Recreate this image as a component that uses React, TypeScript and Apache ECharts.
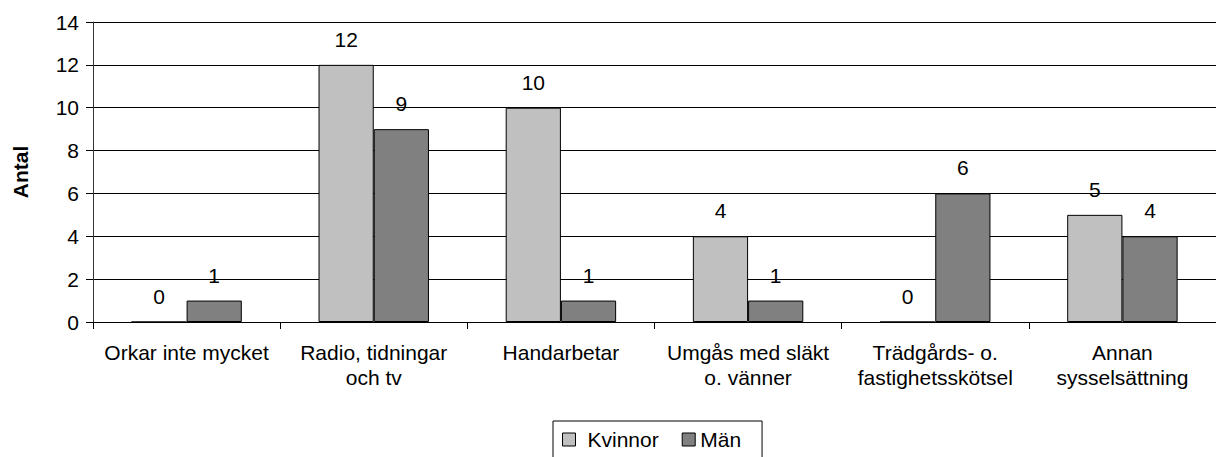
import React, { useEffect, useRef } from "react";
import * as echarts from "echarts";

const categories = [
  "Orkar inte mycket",
  "Radio, tidningar\noch tv",
  "Handarbetar",
  "Umgås med släkt\no. vänner",
  "Trädgårds- o.\nfastighetsskötsel",
  "Annan\nsysselsättning",
];
const kvinnor = [0, 12, 10, 4, 0, 5];
const man = [1, 9, 1, 1, 6, 4];
const yTicks = { min: 0, max: 14, interval: 2 };

const FONT = "'Liberation Sans', Arial, sans-serif";

export default function App() {
  const ref = useRef<HTMLDivElement>(null);
  useEffect(() => {
    document.body.style.margin = "0";
    const chart = echarts.init(ref.current!, undefined, { renderer: "svg" });
    const label = {
      show: true,
      position: "top" as const,
      distance: 15,
      color: "#000",
      fontSize: 21,
      fontFamily: FONT,
    };
    chart.setOption({
      animation: false,
      backgroundColor: "#fff",
      textStyle: { fontFamily: FONT },
      grid: { left: 93, top: 22, width: 1126, height: 300, containLabel: false },
      legend: {
        left: 553,
        top: 421,
        orient: "horizontal",
        borderColor: "#000",
        borderWidth: 1,
        padding: [8, 21, 30, 9],
        itemGap: 23,
        itemWidth: 13,
        itemHeight: 13,
        icon: "rect",
        textStyle: { fontSize: 21, color: "#000", fontFamily: FONT },
        data: [
          {
            name: "Kvinnor",
            itemStyle: { borderColor: "#000", borderWidth: 1 },
            textStyle: { padding: [0, 0, 0, 7] },
          },
          {
            name: "Män",
            itemStyle: { borderColor: "#000", borderWidth: 1 },
            textStyle: { padding: [0, 0, 0, 0] },
          },
        ],
      },
      xAxis: {
        type: "category",
        data: categories,
        boundaryGap: true,
        axisLine: { show: true, lineStyle: { color: "#000", width: 1 } },
        axisTick: { show: true, length: 7, lineStyle: { color: "#000" } },
        axisLabel: {
          color: "#000",
          fontSize: 21,
          fontFamily: FONT,
          lineHeight: 25,
          margin: 18,
          interval: 0,
        },
      },
      yAxis: {
        type: "value",
        min: yTicks.min,
        max: yTicks.max,
        interval: yTicks.interval,
        name: "Antal",
        nameLocation: "middle",
        nameRotate: 90,
        nameGap: 62,
        nameTextStyle: { fontSize: 21, fontWeight: "bold", color: "#000", fontFamily: FONT },
        axisLine: { show: true, lineStyle: { color: "#333", width: 1 } },
        axisTick: { show: true, length: 7, lineStyle: { color: "#000" } },
        axisLabel: { color: "#000", fontSize: 21, fontFamily: FONT, margin: 14 },
        splitLine: { show: true, lineStyle: { color: "#000", width: 1 } },
      },
      series: [
        {
          name: "Kvinnor",
          type: "bar",
          data: kvinnor,
          barGap: "0%",
          barCategoryGap: "41%",
          itemStyle: { color: "#C0C0C0", borderColor: "#000", borderWidth: 1 },
          label,
        },
        {
          name: "Män",
          type: "bar",
          data: man,
          barGap: "0%",
          barCategoryGap: "41%",
          itemStyle: { color: "#808080", borderColor: "#000", borderWidth: 1 },
          label,
        },
      ],
    });
    return () => chart.dispose();
  }, []);
  return <div ref={ref} style={{ width: 1216, height: 457 }} />;
}
